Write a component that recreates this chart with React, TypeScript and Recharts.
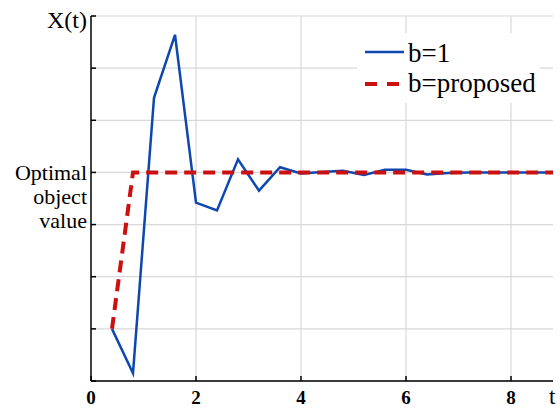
import { LineChart, Line, XAxis, YAxis, CartesianGrid, Legend } from 'recharts';

// time steps and response of each setting
const tempo = [0.4, 0.8, 1.2, 1.6, 2.0, 2.4, 2.8, 3.2, 3.6, 4.0, 4.4, 4.8, 5.2, 5.6, 6.0, 6.4, 6.8, 7.2, 7.6, 8.0, 8.4, 8.8];
const serieB1 = [1.0, 0.15, 5.43, 6.64, 3.42, 3.27, 4.25, 3.65, 4.1, 3.98, 4.01, 4.03, 3.95, 4.05, 4.05, 3.96, 3.99, 4.0, 4.0, 4.0, 4.0, 4.0];
const serieProposta = [1.0, 4.0, 4.0, 4.0, 4.0, 4.0, 4.0, 4.0, 4.0, 4.0, 4.0, 4.0, 4.0, 4.0, 4.0, 4.0, 4.0, 4.0, 4.0, 4.0, 4.0, 4.0];
const ticksX = [0, 2, 4, 6, 8];
const gradeX = [2, 4, 6, 8];
const ticksY = [0, 1, 2, 3, 4, 5, 6, 7];
const rotuloOtimo = ['Optimal', 'object', 'value'];

const dados = tempo.map((t, i) => ({ t, b1: serieB1[i], prop: serieProposta[i] }));

const fonte = 'Liberation Serif, Times New Roman, serif';
const azul = '#0d47b0';
const vermelho = '#cc1010';

const TickY = (props: any) => {
  const { x, y, payload } = props;
  if (payload.value === 7) {
    return (
      <text x={x} y={y + 12} textAnchor="end" fontFamily={fonte} fontSize={24} fill="#000">X(t)</text>
    );
  }
  if (payload.value === 4) {
    return (
      <text textAnchor="end" fontFamily={fonte} fontSize={22} fill="#000">
        {rotuloOtimo.map((linha, i) => (
          <tspan key={linha} x={x} y={y + 8 + i * 24}>{linha}</tspan>
        ))}
      </text>
    );
  }
  return <g />;
};

// "t" at the end of the time axis
const RotuloT = (props: any) => {
  const { viewBox } = props;
  return (
    <text x={viewBox.x + viewBox.width - 4} y={viewBox.y + 23} fontFamily={fonte} fontSize={23} fill="#000">t</text>
  );
};

const Legenda = () => (
  <svg width={183} height={70} style={{ display: 'block', background: '#fff' }}>
    <line x1={8} y1={19} x2={47} y2={19} stroke={azul} strokeWidth={2.5} />
    <text x={51} y={29} fontFamily={fonte} fontSize={27} fill="#000">b=1</text>
    <line x1={8} y1={51} x2={47} y2={51} stroke={vermelho} strokeWidth={4} strokeDasharray="12 10" />
    <text x={51} y={59} fontFamily={fonte} fontSize={27} fill="#000">b=proposed</text>
  </svg>
);

export default function App() {
  return (
    <div style={{ position: 'absolute', left: 0, top: 0, background: '#fff' }}>
      <LineChart width={560} height={409} data={dados} margin={{ top: 16, right: 7, bottom: 0, left: 91 }}>
        <CartesianGrid stroke="#d8d8d8" strokeWidth={1.2} verticalValues={gradeX} />
        <XAxis
          dataKey="t"
          type="number"
          domain={[0, 8.8]}
          ticks={ticksX}
          height={28}
          stroke="#000"
          strokeWidth={1.5}
          tickSize={-5}
          tickMargin={15}
          tick={{ fontFamily: fonte, fontWeight: 'bold', fontSize: 19, fill: '#000' }}
          label={<RotuloT />}
        />
        <YAxis
          type="number"
          domain={[0, 7]}
          ticks={ticksY}
          width={1}
          mirror
          stroke="#000"
          strokeWidth={1.5}
          tickSize={5}
          tickMargin={-9}
          tick={<TickY />}
        />
        <Legend
          layout="vertical"
          align="center"
          verticalAlign="middle"
          content={<Legenda />}
          wrapperStyle={{ left: 357, top: 33, width: 183, height: 70 }}
        />
        <Line type="linear" dataKey="b1" stroke={azul} strokeWidth={2.5} dot={false} isAnimationActive={false} />
        <Line type="linear" dataKey="prop" stroke={vermelho} strokeWidth={4} strokeDasharray="12 7" dot={false} isAnimationActive={false} />
      </LineChart>
    </div>
  );
}
